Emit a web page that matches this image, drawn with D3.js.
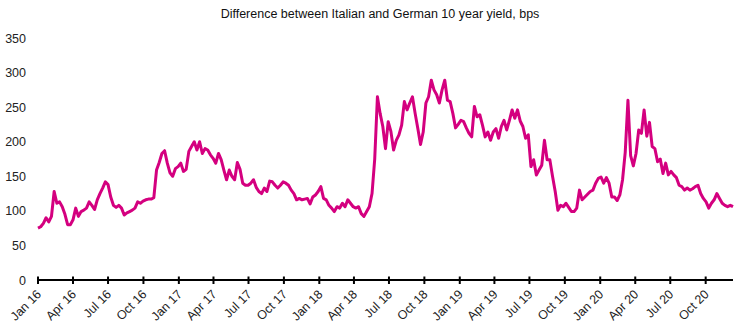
<!DOCTYPE html>
<html>
<head>
<meta charset="utf-8">
<script src="https://cdn.jsdelivr.net/npm/d3@7"></script>
<style>
  html, body { margin: 0; padding: 0; background: #fff; }
  svg { display: block; font-family: "Liberation Sans", Arial, Helvetica, sans-serif; }
</style>
</head>
<body>
<svg id="chart" width="756" height="333"></svg>
<script>
const title = "Difference between Italian and German 10 year yield, bps";
const startDate = "2016-01-01";
// weekly spread values (bps)
const spread = [
  75, 77, 82, 90, 84, 92, 128, 111, 113, 106,
  95, 80, 80, 87, 104, 92, 99, 101, 104, 113,
  108, 102, 116, 125, 133, 142, 138, 120, 108, 105,
  108, 104, 94, 97, 99, 101, 104, 113, 111, 114,
  116, 117, 117, 119, 159, 170, 183, 187, 169, 155,
  150, 161, 164, 169, 157, 160, 186, 193, 200, 188,
  200, 183, 190, 188, 181, 176, 169, 183, 174, 159,
  145, 159, 150, 145, 170, 160, 140, 137, 137, 140,
  145, 134, 128, 125, 133, 128, 143, 142, 137, 133,
  137, 142, 140, 137, 130, 125, 116, 118, 116, 117,
  118, 110, 120, 123, 128, 135, 118, 116, 108, 104,
  99, 106, 104, 111, 106, 116, 111, 106, 104, 106,
  96, 92, 99, 106, 125, 175, 265, 241, 222, 190,
  229, 215, 188, 202, 210, 224, 258, 246, 256, 265,
  241, 219, 196, 214, 256, 265, 289, 275, 268, 256,
  275, 289, 260, 258, 241, 220, 225, 231, 229, 220,
  212, 207, 251, 236, 239, 224, 207, 214, 202, 214,
  219, 205, 222, 231, 217, 231, 246, 234, 246, 230,
  222, 205, 210, 164, 174, 152, 159, 166, 202, 174,
  174, 150, 128, 101, 108, 106, 111, 105, 99, 99,
  104, 130, 116, 120, 124, 128, 130, 140, 147, 149,
  140, 148, 140, 120, 120, 115, 123, 145, 185, 260,
  180, 165, 183, 217, 212, 246, 208, 228, 193, 190,
  171, 175, 154, 169, 152, 157, 152, 148, 137, 135,
  130, 133, 130, 132, 135, 137, 125, 118, 113, 104,
  111, 116, 125, 118, 111, 108, 106, 108, 106
];
const yTicks = [0, 50, 100, 150, 200, 250, 300, 350];
const xTickMonths = ["Jan","Apr","Jul","Oct"];

const parse = d3.timeParse("%Y-%m-%d");
const t0 = parse(startDate);
const data = spread.map((v, i) => ({ date: d3.timeDay.offset(t0, 7 * i), value: v }));

const svg = d3.select("#chart");
const x = d3.scaleTime()
  .domain([data[0].date, data[data.length - 1].date])
  .range([38, 733]);
const y = d3.scaleLinear().domain([0, 350]).range([280, 38]);

// title
svg.append("text")
  .attr("x", 380).attr("y", 18)
  .attr("text-anchor", "middle")
  .attr("font-size", 12.5)
  .attr("fill", "#111")
  .text(title);

// y axis labels (no line)
const yAxis = svg.append("g")
  .attr("transform", "translate(38,0)")
  .call(d3.axisLeft(y).tickValues(yTicks).tickSize(0).tickPadding(12));
yAxis.select(".domain").remove();
yAxis.selectAll("text")
  .attr("font-size", 12.5)
  .attr("font-family", "Liberation Sans, Arial, sans-serif")
  .attr("fill", "#222");

// x axis
const quarterTicks = d3.timeMonth.every(3).range(d3.timeMonth.floor(data[0].date), data[data.length - 1].date);
const fmt = d => xTickMonths[Math.floor(d.getMonth() / 3)] + " " + d3.timeFormat("%y")(d);
const xAxisG = svg.append("g").attr("transform", `translate(0,${y(0)})`);
xAxisG.append("line")
  .attr("x1", 38).attr("x2", 733)
  .attr("y1", 0).attr("y2", 0)
  .attr("stroke", "#000").attr("stroke-width", 2);
xAxisG.selectAll("line.tick").data(quarterTicks).join("line")
  .attr("class", "tick")
  .attr("x1", d => x(d)).attr("x2", d => x(d))
  .attr("y1", -3.5).attr("y2", 4)
  .attr("stroke", "#000").attr("stroke-width", 2);
xAxisG.selectAll("text").data(quarterTicks).join("text")
  .attr("transform", d => `translate(${x(d) + 4},${15}) rotate(-45)`)
  .attr("text-anchor", "end")
  .attr("font-size", 12.5)
  .attr("fill", "#222")
  .text(fmt);

// line
const line = d3.line()
  .x(d => x(d.date))
  .y(d => y(d.value));
svg.append("path")
  .datum(data)
  .attr("fill", "none")
  .attr("stroke", "#d4007f")
  .attr("stroke-width", 3)
  .attr("stroke-linejoin", "round")
  .attr("d", line);
</script>
</body>
</html>
